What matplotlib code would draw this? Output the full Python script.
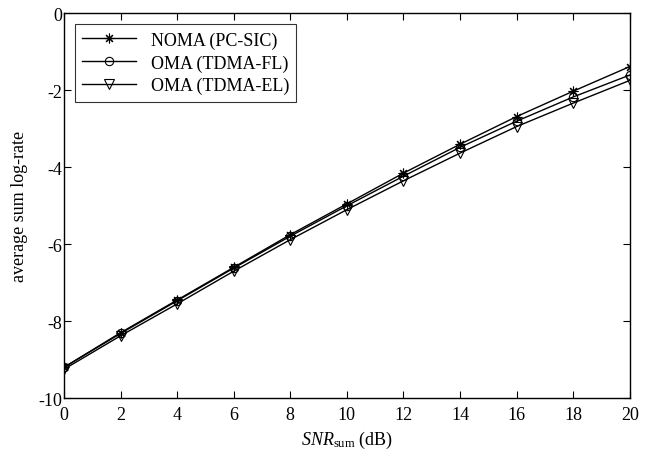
import matplotlib
matplotlib.use("Agg")
import matplotlib.pyplot as plt

plt.rcParams['font.family'] = ['Liberation Serif', 'DejaVu Serif']
plt.rcParams['mathtext.fontset'] = 'custom'
plt.rcParams['mathtext.it'] = 'Liberation Serif:italic'
plt.rcParams['mathtext.rm'] = 'Liberation Serif'
plt.rcParams['axes.unicode_minus'] = False

snr = [0, 2, 4, 6, 8, 10, 12, 14, 16, 18, 20]
noma = [-9.20, -8.30, -7.45, -6.60, -5.75, -4.95, -4.15, -3.40, -2.68, -2.02, -1.38]
tdma_fl = [-9.20, -8.32, -7.47, -6.62, -5.79, -5.00, -4.23, -3.48, -2.80, -2.17, -1.60]
tdma_el = [-9.25, -8.38, -7.55, -6.70, -5.88, -5.10, -4.35, -3.63, -2.94, -2.33, -1.74]
labels = ['NOMA (PC-SIC)', 'OMA (TDMA-FL)', 'OMA (TDMA-EL)']

fig = plt.figure(figsize=(6.46, 4.52), dpi=100)
ax = fig.add_axes([0.099, 0.117, 0.876, 0.851])

ax.plot(snr, noma, color='black', lw=1.0, marker=(8, 2, 0), ms=7, mew=0.8, label=labels[0])
ax.plot(snr, tdma_fl, color='black', lw=1.0, marker='o', ms=6, mfc='none', mew=0.8, label=labels[1])
ax.plot(snr, tdma_el, color='black', lw=1.0, marker='v', ms=7, mfc='none', mew=0.8, label=labels[2])

ax.set_xlim(0, 20)
ax.set_ylim(-10, 0)
ax.set_xticks(range(0, 21, 2))
ax.set_yticks(range(-10, 1, 2))
ax.tick_params(direction='in', top=True, right=True, labelsize=13, length=5, width=0.8)
ax.tick_params(axis='x', pad=6)
ax.tick_params(axis='y', pad=1)
for s in ax.spines.values():
    s.set_linewidth(1.0)

ax.set_xlabel(r'$\mathit{SNR}_{\mathrm{sum}}$ (dB)', fontsize=13, labelpad=4)
ax.set_ylabel('average sum log-rate', fontsize=13, labelpad=8)

leg = ax.legend(loc='upper left', fontsize=13, frameon=True, fancybox=False,
                edgecolor='black', borderpad=0.4, handlelength=3.0,
                labelspacing=0.3, borderaxespad=0.6)
leg.get_frame().set_linewidth(0.8)

fig.savefig('out.png', dpi=100)
